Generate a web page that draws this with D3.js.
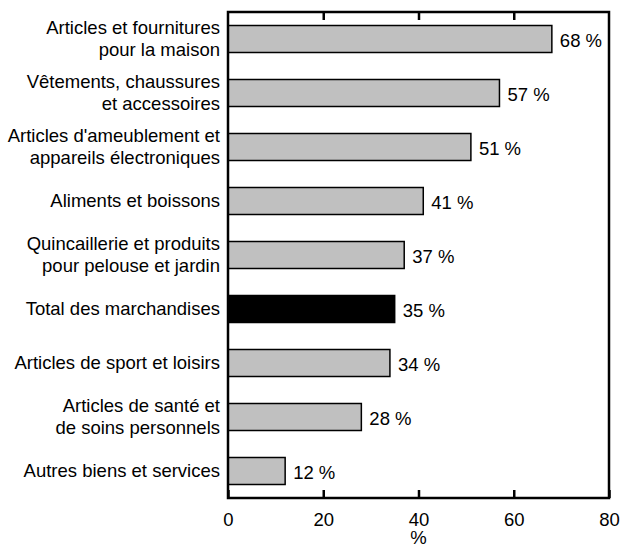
<!DOCTYPE html>
<html>
<head>
<meta charset="utf-8">
<script src="https://cdn.jsdelivr.net/npm/d3@7"></script>
<style>
  body { margin: 0; background: #fff; }
  text { font-family: "Liberation Sans", Arial, sans-serif; fill: #000; }
</style>
</head>
<body>
<div class="svgContainer"></div>
<script>
// categories (each one split into display lines) and values
let categories = [
    ["Articles et fournitures", "pour la maison"],
    ["Vêtements, chaussures", "et accessoires"],
    ["Articles d'ameublement et", "appareils électroniques"],
    ["Aliments et boissons"],
    ["Quincaillerie et produits", "pour pelouse et jardin"],
    ["Total des marchandises"],
    ["Articles de sport et loisirs"],
    ["Articles de santé et", "de soins personnels"],
    ["Autres biens et services"]
];
let values = [68, 57, 51, 41, 37, 35, 34, 28, 12];
let xTicks = [0, 20, 40, 60, 80];
let totalIndex = 5;

let w = 621;
let h = 548;
let padLeft = 228, padRight = 609, padTop = 12, padBottom = 498;
let fontSize = "18.5px";

let xScale = d3.scaleLinear()
    .domain([0, 80])
    .range([padLeft, padRight]);

let yScale = d3.scaleBand()
    .domain(d3.range(values.length))
    .range([padTop, padBottom])
    .paddingInner(0.5)
    .paddingOuter(0.25);

const svg = d3.select(".svgContainer")
    .append("svg")
    .attr("width", w)
    .attr("height", h);

// bars
svg.selectAll(".bar")
    .data(values)
    .enter()
    .append("rect")
    .attr("class", "bar")
    .attr("x", xScale(0))
    .attr("y", (d, i) => yScale(i))
    .attr("width", d => xScale(d) - xScale(0))
    .attr("height", yScale.bandwidth())
    .attr("fill", (d, i) => i === totalIndex ? "#000" : "#c0c0c0")
    .attr("stroke", "#000")
    .attr("stroke-width", 1.5);

// value labels
svg.selectAll(".val")
    .data(values)
    .enter()
    .append("text")
    .attr("class", "val")
    .attr("x", d => xScale(d) + 8)
    .attr("y", (d, i) => yScale(i) + yScale.bandwidth() / 2 + 1.5)
    .attr("dy", "0.35em")
    .style("font-size", fontSize)
    .text(d => d + " %");

// category labels
let cat = svg.selectAll(".cat")
    .data(categories)
    .enter()
    .append("text")
    .attr("class", "cat")
    .attr("text-anchor", "end")
    .style("font-size", fontSize);

cat.each(function (lines, i) {
    let cy = yScale(i) + yScale.bandwidth() / 2;
    let lh = 22;
    let y0 = cy - (lines.length - 1) * lh / 2;
    d3.select(this).selectAll("tspan")
        .data(lines)
        .enter()
        .append("tspan")
        .attr("x", padLeft - 8)
        .attr("y", (d, j) => y0 + j * lh)
        .attr("dy", "0.35em")
        .text(d => d);
});

// frame
svg.append("rect")
    .attr("x", padLeft)
    .attr("y", padTop)
    .attr("width", padRight - padLeft)
    .attr("height", padBottom - padTop)
    .attr("fill", "none")
    .attr("stroke", "#000")
    .attr("stroke-width", 2.5);

// bottom axis (ticks pointing inward)
const xAxis = d3.axisBottom(xScale)
    .tickValues(xTicks)
    .tickSizeInner(-8)
    .tickSizeOuter(0)
    .tickPadding(15);

let gx = svg.append("g")
    .attr("id", "x-axis")
    .attr("transform", `translate(0, ${padBottom})`)
    .call(xAxis);
gx.select(".domain").remove();
gx.selectAll("line").attr("stroke-width", 2.5);
gx.selectAll("text")
    .style("font-size", fontSize)
    .style("font-family", "'Liberation Sans', Arial, sans-serif");

// top ticks
const xAxisTop = d3.axisTop(xScale)
    .tickValues(xTicks.slice(1, -1))
    .tickSizeInner(-8)
    .tickSizeOuter(0)
    .tickFormat("");
let gt = svg.append("g")
    .attr("transform", `translate(0, ${padTop})`)
    .call(xAxisTop);
gt.select(".domain").remove();
gt.selectAll("line").attr("stroke-width", 2.5);

// axis title
svg.append("text")
    .attr("x", (padLeft + padRight) / 2)
    .attr("y", 544)
    .attr("text-anchor", "middle")
    .style("font-size", fontSize)
    .text("%");
</script>
</body>
</html>
